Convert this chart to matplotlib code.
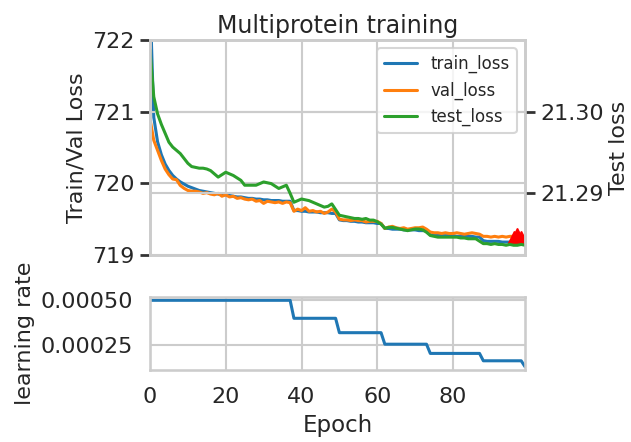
import numpy as np
import matplotlib.pyplot as plt
import seaborn as sns

# per-epoch history
epochs = np.arange(100)

train_loss = [722.60, 720.92, 720.58, 720.40, 720.27, 720.18, 720.11, 720.06, 720.02, 719.99,
              719.96, 719.94, 719.92, 719.90, 719.89, 719.88, 719.87, 719.86, 719.85, 719.84,
              719.84, 719.83, 719.82, 719.81, 719.81, 719.80, 719.79, 719.79, 719.78, 719.78,
              719.77, 719.77, 719.76, 719.76, 719.76, 719.75, 719.75, 719.75, 719.62, 719.62,
              719.61, 719.61, 719.60, 719.60, 719.60, 719.59, 719.59, 719.59, 719.58, 719.58,
              719.49, 719.48, 719.48, 719.47, 719.47, 719.46, 719.46, 719.45, 719.45, 719.45,
              719.44, 719.44, 719.37, 719.37, 719.36, 719.36, 719.36, 719.35, 719.35, 719.35,
              719.35, 719.34, 719.34, 719.34, 719.28, 719.28, 719.28, 719.27, 719.27, 719.27,
              719.27, 719.26, 719.26, 719.26, 719.26, 719.26, 719.25, 719.25, 719.20, 719.19,
              719.19, 719.19, 719.19, 719.18, 719.18, 719.18, 719.18, 719.17, 719.17, 719.16]

val_loss = [720.90, 720.60, 720.46, 720.32, 720.20, 720.12, 720.06, 720.05, 719.97, 719.93,
            719.90, 719.89, 719.89, 719.88, 719.86, 719.87, 719.85, 719.84, 719.86, 719.82,
            719.84, 719.81, 719.82, 719.79, 719.80, 719.78, 719.77, 719.78, 719.75, 719.76,
            719.72, 719.75, 719.74, 719.73, 719.74, 719.72, 719.74, 719.73, 719.61, 719.64,
            719.62, 719.66, 719.61, 719.62, 719.60, 719.61, 719.58, 719.60, 719.64, 719.60,
            719.50, 719.49, 719.49, 719.48, 719.49, 719.48, 719.48, 719.46, 719.47, 719.47,
            719.47, 719.44, 719.37, 719.39, 719.40, 719.38, 719.37, 719.38, 719.36, 719.37,
            719.38, 719.38, 719.39, 719.36, 719.32, 719.31, 719.31, 719.30, 719.31, 719.30,
            719.30, 719.31, 719.30, 719.29, 719.30, 719.31, 719.30, 719.29, 719.26, 719.26,
            719.25, 719.26, 719.25, 719.26, 719.25, 719.26, 719.26, 719.26, 719.25, 719.22]

test_loss = [21.3077, 21.3019, 21.2998, 21.2985, 21.2974, 21.2963, 21.2957, 21.2953, 21.2949, 21.2943,
             21.2937, 21.2933, 21.2932, 21.2931, 21.2931, 21.2930, 21.2928, 21.2924, 21.2920, 21.2923,
             21.2926, 21.2924, 21.2922, 21.2919, 21.2916, 21.2910, 21.2910, 21.2910, 21.2910, 21.2912,
             21.2914, 21.2913, 21.2912, 21.2909, 21.2906, 21.2908, 21.2910, 21.2900, 21.2889, 21.2891,
             21.2893, 21.2892, 21.2891, 21.2889, 21.2887, 21.2885, 21.2883, 21.2884, 21.2887, 21.2880,
             21.2873, 21.2872, 21.2871, 21.2870, 21.2869, 21.2869, 21.2868, 21.2869, 21.2867, 21.2867,
             21.2865, 21.2862, 21.2857, 21.2858, 21.2858, 21.2857, 21.2856, 21.2855, 21.2854, 21.2855,
             21.2856, 21.2856, 21.2855, 21.2852, 21.2848, 21.2847, 21.2846, 21.2846, 21.2846, 21.2846,
             21.2846, 21.2846, 21.2845, 21.2845, 21.2844, 21.2844, 21.2844, 21.2841, 21.2838, 21.2838,
             21.2837, 21.2838, 21.2837, 21.2837, 21.2836, 21.2837, 21.2836, 21.2836, 21.2837, 21.2836]

learning_rate = [0.0005] * 38 + [0.0004] * 12 + [0.00032] * 12 + [0.000256] * 12 \
    + [0.0002048] * 14 + [0.00016384] * 11 + [0.000131072]

best_epochs = [96, 97, 98]
best_vals = [719.25, 719.29, 719.25]

sns.set_theme(style="whitegrid", context="talk")
plt.rcParams['font.family'] = ['DejaVu Sans']

fig = plt.figure(figsize=(6.31, 4.42), dpi=100)
ax = fig.add_axes([0.2377, 0.4231, 0.5943, 0.4864])
ax_lr = fig.add_axes([0.2377, 0.1629, 0.5943, 0.1652], sharex=ax)
ax2 = ax.twinx()

l1, = ax.plot(epochs, train_loss, color="#1f77b4", lw=2.2, label="train_loss")
l2, = ax.plot(epochs, val_loss, color="#ff7f0e", lw=2.2, label="val_loss")
ax.plot(best_epochs, best_vals, marker="^", ls="none", color="#ff0000", ms=8, zorder=2.5)
l3, = ax2.plot(epochs, test_loss, color="#2ca02c", lw=2.2, label="test_loss")

ax.set_ylim(719, 722)
ax.set_yticks([719, 720, 721, 722])
ax2.set_ylim(21.2824, 21.3089)
ax2.set_yticks([21.29, 21.30])
ax2.set_yticklabels(["21.29", "21.30"])
ax.set_xlim(0, 99)

ax.set_ylabel("Train/Val Loss", fontsize=16)
ax2.set_ylabel("Test loss", fontsize=16)
ax.set_title("Multiprotein training", fontsize=17, pad=5)
ax.tick_params(axis="y", labelsize=16, left=True, length=7, width=2, color="#333333", pad=4)
ax2.tick_params(axis="y", labelsize=16, right=True, length=7, width=2, color="#333333", pad=4)
ax.tick_params(axis="x", labelbottom=False)

ax2.legend([l1, l2, l3], ["train_loss", "val_loss", "test_loss"],
           loc="upper right", fontsize=12, framealpha=0.8)

ax_lr.plot(epochs, learning_rate, color="#1f77b4", lw=2.2)
ax_lr.set_yticks([0.00025, 0.0005])
ax_lr.set_yticklabels(["0.00025", "0.00050"])
ax_lr.set_xticks([0, 20, 40, 60, 80])
ax_lr.tick_params(labelsize=16)
ax_lr.set_ylabel("learning rate", fontsize=16)
ax_lr.set_xlabel("Epoch", fontsize=16.5, labelpad=5)

fig.savefig("out.png", dpi=100)
